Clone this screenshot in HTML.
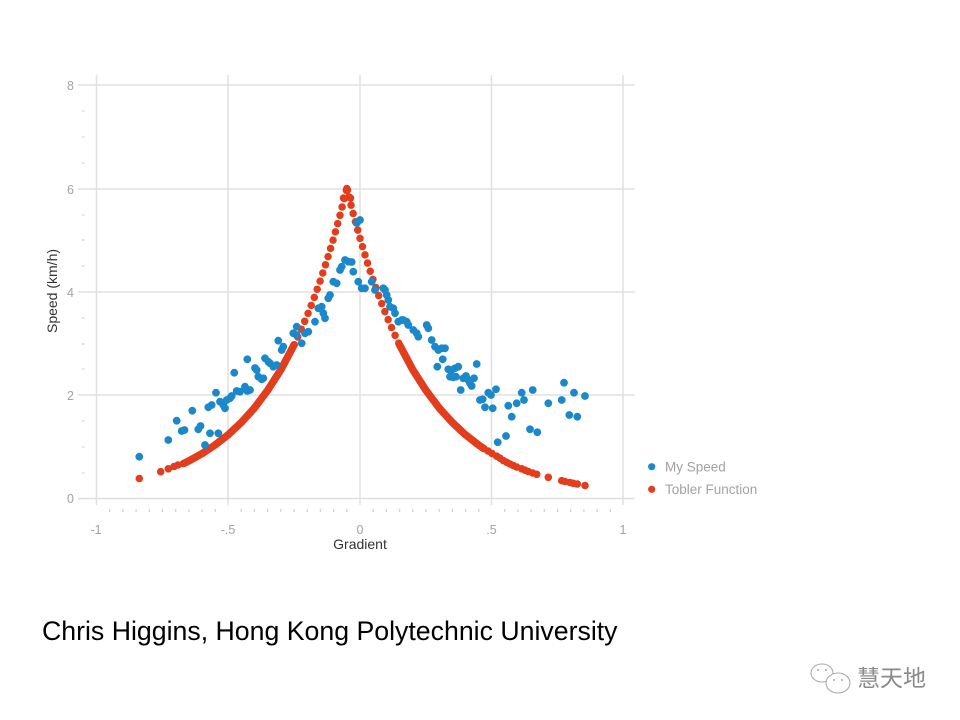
<!DOCTYPE html>
<html><head><meta charset="utf-8"><style>
html,body{margin:0;padding:0;background:#fff;}
svg{display:block;}
</style></head><body>
<svg width="960" height="720" viewBox="0 0 960 720" xmlns="http://www.w3.org/2000/svg" font-family="Liberation Sans, Arial, sans-serif">
<rect width="960" height="720" fill="#fff"/>
<g stroke="#e0e0e0" stroke-width="1.5">
<line x1="78" y1="85" x2="635" y2="85"/>
<line x1="78" y1="189" x2="635" y2="189"/>
<line x1="78" y1="292" x2="635" y2="292"/>
<line x1="78" y1="395" x2="635" y2="395"/>
<line x1="78" y1="498.5" x2="635" y2="498.5"/>
<line x1="96.5" y1="75" x2="96.5" y2="505"/>
<line x1="228" y1="75" x2="228" y2="505"/>
<line x1="360" y1="75" x2="360" y2="505"/>
<line x1="491.5" y1="75" x2="491.5" y2="505"/>
<line x1="623" y1="75" x2="623" y2="505"/>
</g>
<g stroke="#d0d0d0" stroke-width="1.2">
<line x1="82" y1="111" x2="84.5" y2="111"/><line x1="82" y1="137" x2="84.5" y2="137"/><line x1="82" y1="163" x2="84.5" y2="163"/>
<line x1="82" y1="215" x2="84.5" y2="215"/><line x1="82" y1="240" x2="84.5" y2="240"/><line x1="82" y1="266" x2="84.5" y2="266"/>
<line x1="82" y1="318" x2="84.5" y2="318"/><line x1="82" y1="344" x2="84.5" y2="344"/><line x1="82" y1="369" x2="84.5" y2="369"/>
<line x1="82" y1="421" x2="84.5" y2="421"/><line x1="82" y1="447" x2="84.5" y2="447"/><line x1="82" y1="473" x2="84.5" y2="473"/>
</g>
<g stroke="#d0d0d0" stroke-width="1.2">
<line x1="109.7" y1="509" x2="109.7" y2="512"/><line x1="122.9" y1="509" x2="122.9" y2="512"/><line x1="136.1" y1="509" x2="136.1" y2="512"/><line x1="149.3" y1="509" x2="149.3" y2="512"/><line x1="162.5" y1="509" x2="162.5" y2="512"/><line x1="175.7" y1="509" x2="175.7" y2="512"/><line x1="188.9" y1="509" x2="188.9" y2="512"/><line x1="202.1" y1="509" x2="202.1" y2="512"/><line x1="215.3" y1="509" x2="215.3" y2="512"/>
<line x1="241.2" y1="509" x2="241.2" y2="512"/><line x1="254.4" y1="509" x2="254.4" y2="512"/><line x1="267.6" y1="509" x2="267.6" y2="512"/><line x1="280.8" y1="509" x2="280.8" y2="512"/><line x1="294" y1="509" x2="294" y2="512"/><line x1="307.2" y1="509" x2="307.2" y2="512"/><line x1="320.4" y1="509" x2="320.4" y2="512"/><line x1="333.6" y1="509" x2="333.6" y2="512"/><line x1="346.8" y1="509" x2="346.8" y2="512"/>
<line x1="373.2" y1="509" x2="373.2" y2="512"/><line x1="386.4" y1="509" x2="386.4" y2="512"/><line x1="399.6" y1="509" x2="399.6" y2="512"/><line x1="412.8" y1="509" x2="412.8" y2="512"/><line x1="426" y1="509" x2="426" y2="512"/><line x1="439.2" y1="509" x2="439.2" y2="512"/><line x1="452.4" y1="509" x2="452.4" y2="512"/><line x1="465.6" y1="509" x2="465.6" y2="512"/><line x1="478.8" y1="509" x2="478.8" y2="512"/>
<line x1="504.7" y1="509" x2="504.7" y2="512"/><line x1="517.9" y1="509" x2="517.9" y2="512"/><line x1="531.1" y1="509" x2="531.1" y2="512"/><line x1="544.3" y1="509" x2="544.3" y2="512"/><line x1="557.5" y1="509" x2="557.5" y2="512"/><line x1="570.7" y1="509" x2="570.7" y2="512"/><line x1="583.9" y1="509" x2="583.9" y2="512"/><line x1="597.1" y1="509" x2="597.1" y2="512"/><line x1="610.3" y1="509" x2="610.3" y2="512"/>
</g>
<g fill="#a3a3a3" font-size="12.5" text-anchor="end">
<text x="74" y="90">8</text>
<text x="74" y="194">6</text>
<text x="74" y="297">4</text>
<text x="74" y="400">2</text>
<text x="74" y="503">0</text>
</g>
<g fill="#a3a3a3" font-size="12.5" text-anchor="middle">
<text x="96" y="534">-1</text>
<text x="228" y="534">-.5</text>
<text x="360" y="534">0</text>
<text x="491.5" y="534">.5</text>
<text x="623" y="534">1</text>
</g>
<text x="360" y="549" font-size="14" fill="#333" text-anchor="middle">Gradient</text>
<text transform="translate(57,291) rotate(-90)" font-size="14" fill="#333" text-anchor="middle">Speed (km/h)</text>

<g fill="none" stroke="#e23d1c" stroke-linecap="round" stroke-linejoin="round">
<polyline stroke-width="7.5" points="183.4,463.6 188.7,461 201.9,453.7 215,445 228.2,434.7 241.4,422.4 254.6,407.8 267.7,390.3 280.9,369.6 294.1,344.8"/>
<polyline stroke-width="7.5" points="399.5,344.8 412.7,369.6 425.9,390.3 439,407.8 452.2,422.4 465.4,434.7 478.6,445 483.9,448.6"/>
<polyline stroke-width="7.5" stroke-dasharray="0 8.6" points="294.1,344.8 300.7,330.7 307.3,315.3 313.9,298.5 320.4,280.2 327,260.2 333.6,238.3 340.2,214.5 346.8,188.5"/>
<polyline stroke-width="7.5" stroke-dasharray="0 8.6" points="346.8,188.5 353.4,214.5 360,238.3 366.6,260.2 373.2,280.2 379.7,298.5 386.3,315.3 392.9,330.7 399.5,344.8"/>
</g>
<g fill="#e23d1c">
<circle cx="139.3" cy="478.5" r="3.8"/>
<circle cx="160.7" cy="471.7" r="3.8"/>
<circle cx="168.3" cy="468.8" r="3.8"/>
<circle cx="174" cy="466.5" r="3.8"/>
<circle cx="178" cy="465" r="3.8"/>
<circle cx="347.5" cy="190" r="3.8"/>
<circle cx="343.5" cy="198" r="3.8"/>
<circle cx="350.5" cy="198" r="3.8"/>
<circle cx="488" cy="451" r="3.8"/>
<circle cx="492" cy="453.5" r="3.8"/>
<circle cx="496.7" cy="456.2" r="3.8"/>
<circle cx="500" cy="458.2" r="3.8"/>
<circle cx="503.3" cy="460.5" r="3.8"/>
<circle cx="506.7" cy="462.3" r="3.8"/>
<circle cx="510" cy="464" r="3.8"/>
<circle cx="513.3" cy="465.5" r="3.8"/>
<circle cx="516.7" cy="467" r="3.8"/>
<circle cx="521.7" cy="468.8" r="3.8"/>
<circle cx="525" cy="470.2" r="3.8"/>
<circle cx="528.3" cy="471.5" r="3.8"/>
<circle cx="532.7" cy="473" r="3.8"/>
<circle cx="536.7" cy="474.3" r="3.8"/>
<circle cx="548.3" cy="477.3" r="3.8"/>
<circle cx="561.7" cy="480.7" r="3.8"/>
<circle cx="565" cy="481.5" r="3.8"/>
<circle cx="570" cy="482.5" r="3.8"/>
<circle cx="573.3" cy="483.3" r="3.8"/>
<circle cx="577.3" cy="484" r="3.8"/>
<circle cx="585" cy="485.5" r="3.8"/>
</g>

<g fill="#1b88c9">
<circle cx="139.3" cy="456.7" r="3.9"/>
<circle cx="168.3" cy="440" r="3.9"/>
<circle cx="176.7" cy="420.7" r="3.9"/>
<circle cx="181.7" cy="431" r="3.9"/>
<circle cx="184.5" cy="430" r="3.9"/>
<circle cx="192.3" cy="410.7" r="3.9"/>
<circle cx="198.3" cy="429.3" r="3.9"/>
<circle cx="200.5" cy="426" r="3.9"/>
<circle cx="205" cy="445" r="3.9"/>
<circle cx="208.3" cy="407.3" r="3.9"/>
<circle cx="211.7" cy="405" r="3.9"/>
<circle cx="210" cy="433.3" r="3.9"/>
<circle cx="216" cy="392.7" r="3.9"/>
<circle cx="218.3" cy="433.3" r="3.9"/>
<circle cx="220" cy="401.7" r="3.9"/>
<circle cx="223.3" cy="405" r="3.9"/>
<circle cx="226.7" cy="400" r="3.9"/>
<circle cx="230" cy="398.3" r="3.9"/>
<circle cx="231.7" cy="396" r="3.9"/>
<circle cx="225" cy="408.3" r="3.9"/>
<circle cx="234.3" cy="372.7" r="3.9"/>
<circle cx="236.7" cy="391" r="3.9"/>
<circle cx="240" cy="391.7" r="3.9"/>
<circle cx="245" cy="386.7" r="3.9"/>
<circle cx="247.3" cy="391" r="3.9"/>
<circle cx="250" cy="390" r="3.9"/>
<circle cx="247.3" cy="359.3" r="3.9"/>
<circle cx="255" cy="368" r="3.9"/>
<circle cx="256.7" cy="370" r="3.9"/>
<circle cx="258.3" cy="376.7" r="3.9"/>
<circle cx="261.7" cy="379.3" r="3.9"/>
<circle cx="263.3" cy="378.3" r="3.9"/>
<circle cx="265" cy="358.3" r="3.9"/>
<circle cx="268.3" cy="361.7" r="3.9"/>
<circle cx="270" cy="363.3" r="3.9"/>
<circle cx="273.3" cy="366.7" r="3.9"/>
<circle cx="276.7" cy="365" r="3.9"/>
<circle cx="278.3" cy="340.7" r="3.9"/>
<circle cx="281.7" cy="350" r="3.9"/>
<circle cx="283.3" cy="346.7" r="3.9"/>
<circle cx="293.3" cy="333.3" r="3.9"/>
<circle cx="296.7" cy="326.7" r="3.9"/>
<circle cx="296.7" cy="335" r="3.9"/>
<circle cx="301.7" cy="343.3" r="3.9"/>
<circle cx="305" cy="333.3" r="3.9"/>
<circle cx="308.3" cy="331.7" r="3.9"/>
<circle cx="315" cy="321.7" r="3.9"/>
<circle cx="318.3" cy="308.3" r="3.9"/>
<circle cx="321.7" cy="306.7" r="3.9"/>
<circle cx="323.3" cy="313.3" r="3.9"/>
<circle cx="325" cy="318.3" r="3.9"/>
<circle cx="328.3" cy="298.3" r="3.9"/>
<circle cx="330" cy="295" r="3.9"/>
<circle cx="333.3" cy="281.7" r="3.9"/>
<circle cx="336.7" cy="283.3" r="3.9"/>
<circle cx="340" cy="270" r="3.9"/>
<circle cx="341.7" cy="266.7" r="3.9"/>
<circle cx="345" cy="260" r="3.9"/>
<circle cx="348.3" cy="261.7" r="3.9"/>
<circle cx="351.7" cy="262" r="3.9"/>
<circle cx="353.3" cy="271.7" r="3.9"/>
<circle cx="356.7" cy="223" r="3.9"/>
<circle cx="360" cy="220" r="3.9"/>
<circle cx="358.3" cy="281.7" r="3.9"/>
<circle cx="361.7" cy="288.3" r="3.9"/>
<circle cx="365" cy="288.3" r="3.9"/>
<circle cx="371.7" cy="281.7" r="3.9"/>
<circle cx="375" cy="290" r="3.9"/>
<circle cx="383.3" cy="288.3" r="3.9"/>
<circle cx="385" cy="290" r="3.9"/>
<circle cx="386.7" cy="295" r="3.9"/>
<circle cx="388.3" cy="300" r="3.9"/>
<circle cx="390" cy="306.7" r="3.9"/>
<circle cx="393.3" cy="308.3" r="3.9"/>
<circle cx="395" cy="313.3" r="3.9"/>
<circle cx="398.3" cy="321.7" r="3.9"/>
<circle cx="401.7" cy="320" r="3.9"/>
<circle cx="403.3" cy="320" r="3.9"/>
<circle cx="406.7" cy="321.7" r="3.9"/>
<circle cx="408.3" cy="325" r="3.9"/>
<circle cx="413.3" cy="330" r="3.9"/>
<circle cx="416.7" cy="333.3" r="3.9"/>
<circle cx="418.3" cy="336.7" r="3.9"/>
<circle cx="426.7" cy="325" r="3.9"/>
<circle cx="428.3" cy="328.3" r="3.9"/>
<circle cx="431.7" cy="340" r="3.9"/>
<circle cx="435" cy="346.7" r="3.9"/>
<circle cx="438.3" cy="350" r="3.9"/>
<circle cx="441.7" cy="348.3" r="3.9"/>
<circle cx="445" cy="348.3" r="3.9"/>
<circle cx="442.7" cy="359.3" r="3.9"/>
<circle cx="437.3" cy="366.7" r="3.9"/>
<circle cx="448.3" cy="369.3" r="3.9"/>
<circle cx="451.7" cy="370" r="3.9"/>
<circle cx="455" cy="368.3" r="3.9"/>
<circle cx="458.3" cy="366.7" r="3.9"/>
<circle cx="450" cy="376.7" r="3.9"/>
<circle cx="453.3" cy="377.3" r="3.9"/>
<circle cx="456" cy="376.7" r="3.9"/>
<circle cx="476.7" cy="364" r="3.9"/>
<circle cx="463.3" cy="378.3" r="3.9"/>
<circle cx="466" cy="376" r="3.9"/>
<circle cx="468.3" cy="380" r="3.9"/>
<circle cx="470" cy="383.3" r="3.9"/>
<circle cx="471.7" cy="386" r="3.9"/>
<circle cx="474" cy="378.3" r="3.9"/>
<circle cx="460.7" cy="390" r="3.9"/>
<circle cx="480" cy="400" r="3.9"/>
<circle cx="482.7" cy="399.3" r="3.9"/>
<circle cx="485" cy="407.3" r="3.9"/>
<circle cx="488.3" cy="392.7" r="3.9"/>
<circle cx="491" cy="395" r="3.9"/>
<circle cx="496" cy="389.3" r="3.9"/>
<circle cx="492.7" cy="408.3" r="3.9"/>
<circle cx="497.7" cy="442.3" r="3.9"/>
<circle cx="506" cy="436" r="3.9"/>
<circle cx="508.3" cy="405.7" r="3.9"/>
<circle cx="511.7" cy="416.7" r="3.9"/>
<circle cx="516.7" cy="403.3" r="3.9"/>
<circle cx="521.7" cy="392.7" r="3.9"/>
<circle cx="524" cy="400" r="3.9"/>
<circle cx="532.7" cy="390" r="3.9"/>
<circle cx="530" cy="429.3" r="3.9"/>
<circle cx="537.3" cy="432.3" r="3.9"/>
<circle cx="548.3" cy="403.3" r="3.9"/>
<circle cx="561.7" cy="400" r="3.9"/>
<circle cx="564" cy="382.7" r="3.9"/>
<circle cx="574" cy="392.7" r="3.9"/>
<circle cx="569.3" cy="415" r="3.9"/>
<circle cx="577.3" cy="416.7" r="3.9"/>
<circle cx="585" cy="396" r="3.9"/>
</g>

<circle cx="651.7" cy="466.7" r="3.6" fill="#1b88c9"/>
<circle cx="651.7" cy="489.3" r="3.6" fill="#e23d1c"/>
<g fill="#a3a3a3" font-size="13.5">
<text x="665" y="471.5">My Speed</text>
<text x="665" y="494">Tobler Function</text>
</g>

<text x="42" y="640" font-size="26.7" fill="#000">Chris Higgins, Hong Kong Polytechnic University</text>

<g fill="none" stroke="#aaa" stroke-width="1.1">
<ellipse cx="822" cy="673" rx="11" ry="9"/>
<ellipse cx="838" cy="683" rx="12" ry="10" fill="#fff"/>
</g>
<g fill="#aaa">
<circle cx="818" cy="670" r="1"/><circle cx="826" cy="670" r="1"/>
<circle cx="834" cy="680" r="1"/><circle cx="842" cy="680" r="1"/>
</g>
<text x="857" y="686" font-size="23" fill="#8a8a8a" font-family="Liberation Sans, Noto Sans CJK SC, sans-serif">慧天地</text>
</svg>
</body></html>
